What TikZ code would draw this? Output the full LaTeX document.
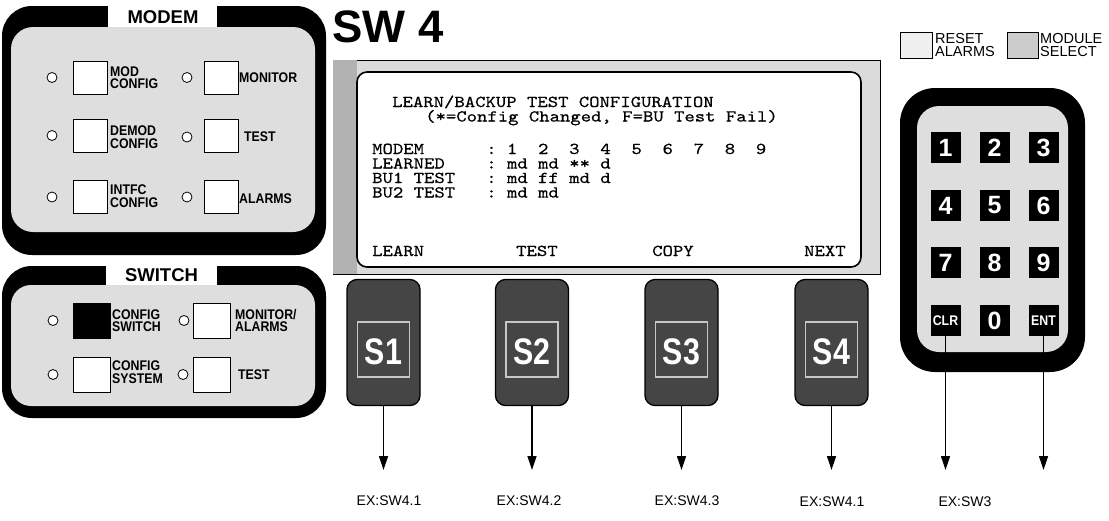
\documentclass[tikz,border=0pt]{standalone}
\usepackage{fontspec}
\setmainfont{Liberation Sans}
\newfontfamily\condsans{Liberation Sans}[FakeStretch=0.88]
\newfontfamily\scrfont{lmmono10-regular.otf}[FakeBold=0.5, FakeStretch=1.19]
\usepackage{graphicx}
\usetikzlibrary{arrows.meta}
\definecolor{panelgray}{gray}{0.87}
\definecolor{bandgray}{gray}{0.86}
\definecolor{bandgrayd}{gray}{0.70}
\definecolor{sgray}{gray}{0.27}
\begin{document}
\begin{tikzpicture}[x=1pt,y=-1pt,
  led/.style={circle, draw, fill=white, minimum size=10pt, inner sep=0pt, line width=0.8pt},
  btn/.style={draw, fill=white, line width=1pt, minimum width=34pt, minimum height=33pt, inner sep=0pt},
  sbtnbox/.style={draw, fill=white, line width=1pt, minimum width=37pt, minimum height=35pt, inner sep=0pt},
  plab/.style={anchor=west, align=left, inner sep=0pt, font=\condsans\bfseries\fontsize{14}{12.5}\selectfont},
  ptitle/.style={inner sep=0pt, font=\bfseries\fontsize{18.5}{20}\selectfont},
  scr/.style={anchor=base west, inner sep=0pt, font=\scrfont\fontsize{16.6}{17}\selectfont},
  sbtn/.style={draw, line width=1.3pt, rounded corners=10pt, fill=sgray, minimum width=73pt, minimum height=126pt, inner sep=0pt},
  sframe/.style={draw=gray!45, line width=1.4pt},
  stext/.style={inner sep=0pt, text=white, font=\bfseries\fontsize{37}{37}\selectfont},
  padkey/.style={fill=black, minimum width=30pt, minimum height=31pt, inner sep=0pt, text=white, font=\bfseries\fontsize{25}{25}\selectfont},
  padkeys/.style={padkey, font=\condsans\bfseries\fontsize{14}{14}\selectfont},
  exlab/.style={inner sep=0pt, font=\fontsize{14}{14}\selectfont},
  leglab/.style={anchor=west, align=left, inner sep=0pt, font=\fontsize{14.5}{12.5}\selectfont},
  conn/.style={line width=1.3pt, -{Triangle[length=14pt,width=9pt]}}
]
\useasboundingbox (0,0) rectangle (1109,520);
\fill[white] (0,0) rectangle (1109,520);

% ---------------- MODEM panel
\fill[black, rounded corners=30pt] (2,6) rectangle (326,255);
\fill[panelgray, rounded corners=22pt] (11,27) rectangle (315,232);
\fill[white] (108,4) rectangle (217,26.6);
\node[ptitle] (modemtitle) at (163,17.5) {MODEM};

\node[led] (ml1) at (52,77.5) {};
\node[btn] (mb1) at (90,77.5) {};
\node[plab] (mt1) at (110,77.5) {MOD\\CONFIG};
\node[led] (mr1) at (187,77.5) {};
\node[btn] (mc1) at (221,77.5) {};
\node[plab] (mu1) at (239,77.5) {MONITOR};

\node[led] (ml2) at (52,135.5) {};
\node[btn] (mb2) at (90,135.5) {};
\node[plab] (mt2) at (110,137) {DEMOD\\CONFIG};
\node[led] (mr2) at (187,137) {};
\node[btn] (mc2) at (221,135.5) {};
\node[plab] (mu2) at (244,137) {TEST};

\node[led] (ml3) at (52,197) {};
\node[btn] (mb3) at (90,196.5) {};
\node[plab] (mt3) at (110,196) {INTFC\\CONFIG};
\node[led] (mr3) at (187,197) {};
\node[btn] (mc3) at (221,196.5) {};
\node[plab] (mu3) at (239,199) {ALARMS};

% ---------------- SWITCH panel
\fill[black, rounded corners=30pt] (2,266) rectangle (326,418);
\fill[panelgray, rounded corners=20pt] (11,285) rectangle (315,406);
\fill[white] (106,262) rectangle (217,284.6);
\node[ptitle] (swtitle) at (161.5,275) {SWITCH};

\node[led] (sl1) at (53,320.5) {};
\node[sbtnbox, fill=black] (sb1) at (91.5,320.5) {};
\node[plab] (st1) at (112,320.5) {CONFIG\\SWITCH};
\node[led] (sr1) at (184,320.5) {};
\node[sbtnbox] (sc1) at (212,320.5) {};
\node[plab] (su1) at (235,320.5) {MONITOR/\\ALARMS};

\node[led] (sl2) at (53,374.5) {};
\node[sbtnbox] (sb2) at (91.5,374.5) {};
\node[plab] (st2) at (112,372) {CONFIG\\SYSTEM};
\node[led] (sr2) at (183,374.5) {};
\node[sbtnbox] (sc2) at (211.5,374.5) {};
\node[plab] (su2) at (238,375) {TEST};

% ---------------- SW 4 title
\node[anchor=base west, inner sep=0pt, font=\bfseries\fontsize{45.5}{46}\selectfont] (sw4) at (332,42) {SW 4};

% ---------------- screen
\draw[line width=0.8pt, fill=bandgray] (333,60) rectangle (880,274);
\fill[bandgrayd] (333.4,60.4) rectangle (357,273.6);
\draw[line width=1.6pt, fill=white, rounded corners=10pt] (357,72) rectangle (861,267);

\node[scr] (l1) at (392,107) {LEARN/BACKUP~TEST~CONFIGURATION};
\node[scr] (l2) at (425,121.5) {(*=Config~Changed,~F=BU~Test~Fail)};
\node[scr] (l3) at (372,154) {MODEM~~~~~~:~1~~2~~3~~4~~5~~6~~7~~8~~9};
\node[scr] (l4) at (372,168.5) {LEARNED~~~~:~md~md~**~d};
\node[scr] (l5) at (372,183) {BU1~TEST~~~:~md~ff~md~d};
\node[scr] (l6) at (372,197.5) {BU2~TEST~~~:~md~md};
\node[scr] (f1) at (372,256) {LEARN};
\node[scr] (f2) at (516,256) {TEST};
\node[scr] (f3) at (652,256) {COPY};
\node[scr] (f4) at (804,256) {NEXT};

% ---------------- S buttons
\foreach \i/\x in {1/383.5, 2/532, 3/681.5, 4/831.5}{
  \node[sbtn] (s\i) at (\x,342.5) {};
  \draw[sframe] (\x-26,322) rectangle (\x+26,377);
  \node[stext] (st\i) at (\x,352) {\scalebox{0.82}[1]{S\i}};
  \coordinate (e\i) at (\x,470);
  \draw[conn] (s\i.south) -- (e\i);
}

\node[exlab] (x1) at (389,501) {EX:SW4.1};
\node[exlab] (x2) at (529,501) {EX:SW4.2};
\node[exlab] (x3) at (687,501) {EX:SW4.3};
\node[exlab] (x4) at (832,502) {EX:SW4.1};
\node[exlab] (x5) at (965,502) {EX:SW3};

% ---------------- legend
\draw[line width=0.6pt, fill=gray!12] (900,32) rectangle (932,58);
\node[leglab] (rst) at (935,45) {RESET\\ALARMS};
\draw[line width=0.6pt, fill=gray!40] (1007,32) rectangle (1038,58);
\node[leglab] (mds) at (1040,45) {MODULE\\SELECT};

% ---------------- keypad
\fill[black, rounded corners=35pt] (900,88) rectangle (1085,372);
\fill[panelgray, rounded corners=22pt] (917,106) rectangle (1068,352);
\node[padkey] (k1) at (945.5,147.5) {1};
\node[padkey] (k2) at (994.5,147.5) {2};
\node[padkey] (k3) at (1043.5,147.5) {3};
\node[padkey] (k4) at (945.5,205.5) {4};
\node[padkey] (k5) at (994.5,205.5) {5};
\node[padkey] (k6) at (1043.5,205.5) {6};
\node[padkey] (k7) at (945.5,262.5) {7};
\node[padkey] (k8) at (994.5,262.5) {8};
\node[padkey] (k9) at (1043.5,262.5) {9};
\node[padkeys] (kclr) at (945.5,320.5) {CLR};
\node[padkey] (k0) at (994.5,320.5) {0};
\node[padkeys] (kent) at (1043.5,320.5) {ENT};

\coordinate (e5) at (945.5,470);
\coordinate (e6) at (1043.5,470);
\draw[conn] (kclr.south) -- (e5);
\draw[conn] (kent.south) -- (e6);
\end{tikzpicture}
\end{document}
